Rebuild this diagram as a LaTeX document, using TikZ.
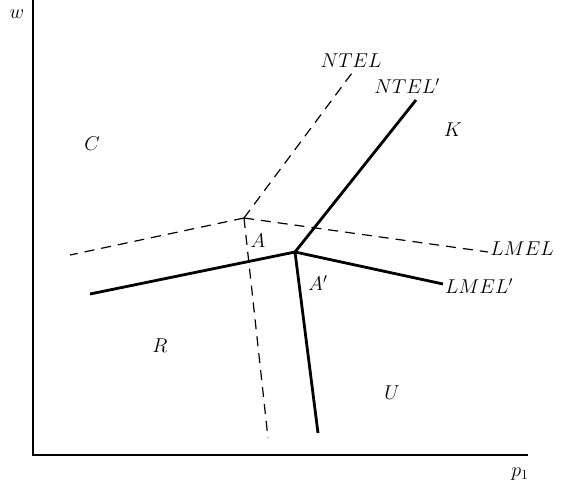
\RequirePackage{fix-cm}
\documentclass[tikz,border=0pt]{standalone}
\begin{document}
\begin{tikzpicture}[x=1pt,y=-1pt,
  axis/.style={line width=1.5pt},
  oldline/.style={line width=1.2pt,dash pattern=on 10pt off 7pt},
  newline/.style={line width=2.8pt},
  lbl/.style={font=\fontsize{20}{22}\selectfont, inner sep=0pt}]
\useasboundingbox (0,0) rectangle (562,486);
% axes
\coordinate (top) at (33,0);
\coordinate (orig) at (33,455);
\coordinate (right) at (528,455);
\draw[axis] (top) -- (orig) -- (right);
\node[lbl] (w) at (17,14) {$w$};
\node[lbl] (p) at (520,474) {$p_1$};
% dashed (old) lines
\coordinate (D) at (244,218);
\coordinate (Dl) at (70,255);
\coordinate (Dr) at (488,252);
\coordinate (Du) at (352,73);
\coordinate (Dd) at (268,438);
\draw[oldline] (D) -- (Dl);
\draw[oldline] (D) -- (Dr);
\draw[oldline] (D) -- (Du);
\draw[oldline] (D) -- (Dd);
% solid (new) lines
\coordinate (S) at (295,252);
\coordinate (Sl) at (90,294);
\coordinate (Sr) at (443,284);
\coordinate (Su) at (416,100);
\coordinate (Sd) at (318,433);
\draw[newline] (S) -- (Sl);
\draw[newline] (S) -- (Sr);
\draw[newline] (S) -- (Su);
\draw[newline] (S) -- (Sd);
% labels
\node[lbl] (ntel) at (351,61) {$NTEL$};
\node[lbl] (ntelp) at (407,86) {$NTEL'$};
\node[lbl] (lmel) at (522,249) {$LMEL$};
\node[lbl] (lmelp) at (479,286) {$LMEL'$};
\node[lbl] (C) at (92,144) {$C$};
\node[lbl] (K) at (453,130) {$K$};
\node[lbl] (A) at (258,241) {$A$};
\node[lbl] (Ap) at (318,283) {$A'$};
\node[lbl] (R) at (160,346) {$R$};
\node[lbl] (U) at (392,393) {$U$};
\end{tikzpicture}
\end{document}
